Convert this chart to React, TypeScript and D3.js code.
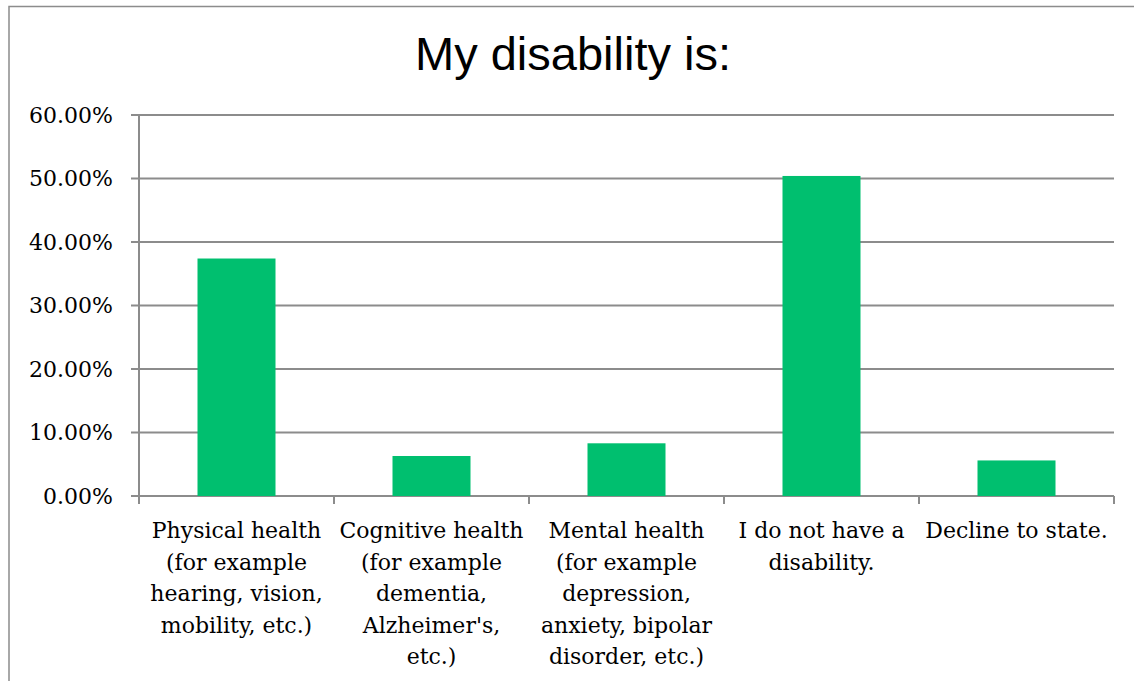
import React, { useEffect, useRef } from 'react';
import * as d3 from 'd3';

const categories = [
  'Physical health (for example hearing, vision, mobility, etc.)',
  "Cognitive health (for example dementia, Alzheimer's, etc.)",
  'Mental health (for example depression, anxiety, bipolar disorder, etc.)',
  'I do not have a disability.',
  'Decline to state.',
];

// wrapped lines as they appear under each bar
const categoryLines = [
  ['Physical health', '(for example', 'hearing, vision,', 'mobility, etc.)'],
  ['Cognitive health', '(for example', 'dementia,', "Alzheimer's,", 'etc.)'],
  ['Mental health', '(for example', 'depression,', 'anxiety, bipolar', 'disorder, etc.)'],
  ['I do not have a', 'disability.'],
  ['Decline to state.'],
];

const values = [37.4, 6.3, 8.3, 50.4, 5.6];
const yTicks = [0, 10, 20, 30, 40, 50, 60];

const W = 1134;
const H = 681;

const App: React.FC = () => {
  const svgRef = useRef<SVGSVGElement | null>(null);

  useEffect(() => {
    const svgEl = svgRef.current;
    if (!svgEl) return;
    const svg = d3.select(svgEl);
    svg.selectAll('*').remove();

    const margin = { top: 115, right: 20, bottom: 185, left: 139 };
    const innerWidth = 1114 - margin.left;
    const innerHeight = 496 - margin.top;

    const x = d3.scaleBand<string>().domain(categories).range([0, innerWidth]).paddingInner(0.6).paddingOuter(0.3);
    const step = innerWidth / categories.length;
    const y = d3.scaleLinear().domain([0, 60]).range([innerHeight, 0]);

    const grey = '#8c8c8c';
    const serif = '"DejaVu Serif", serif';

    // outer chart frame
    svg.append('rect')
      .attr('x', 9)
      .attr('y', 6.5)
      .attr('width', W + 20)
      .attr('height', H + 20)
      .attr('fill', 'none')
      .attr('stroke', grey)
      .attr('stroke-width', 1.5);

    // title
    svg.append('text')
      .attr('x', 573)
      .attr('y', 70)
      .attr('text-anchor', 'middle')
      .attr('font-family', '"Liberation Sans", Arial, sans-serif')
      .attr('font-size', 47)
      .attr('fill', '#000')
      .text('My disability is:');

    const g = svg.append('g').attr('transform', `translate(${margin.left},${margin.top})`);

    // gridlines
    g.append('g')
      .selectAll('line')
      .data(yTicks)
      .join('line')
      .attr('x1', -8)
      .attr('x2', innerWidth)
      .attr('y1', (d) => y(d))
      .attr('y2', (d) => y(d))
      .attr('stroke', grey)
      .attr('stroke-width', 2);

    // y axis line
    g.append('line')
      .attr('x1', 0).attr('x2', 0)
      .attr('y1', 0).attr('y2', innerHeight + 8)
      .attr('stroke', grey)
      .attr('stroke-width', 2);

    // category tick marks
    g.append('g')
      .selectAll('line')
      .data(d3.range(categories.length + 1))
      .join('line')
      .attr('x1', (i) => i * step)
      .attr('x2', (i) => i * step)
      .attr('y1', innerHeight)
      .attr('y2', innerHeight + 8)
      .attr('stroke', grey)
      .attr('stroke-width', 2);

    // y tick labels
    g.append('g')
      .selectAll('text')
      .data(yTicks)
      .join('text')
      .attr('x', -26)
      .attr('y', (d) => y(d))
      .attr('dy', '0.36em')
      .attr('text-anchor', 'end')
      .attr('font-family', serif)
      .attr('font-size', 22)
      .attr('fill', '#000')
      .text((d) => `${d.toFixed(2)}%`);

    // bars
    g.append('g')
      .selectAll('rect')
      .data(values)
      .join('rect')
      .attr('x', (_, i) => x(categories[i]) as number)
      .attr('y', (d) => y(d))
      .attr('width', x.bandwidth())
      .attr('height', (d) => innerHeight - y(d))
      .attr('fill', '#00bf6f');

    // category labels
    const labels = g.append('g')
      .selectAll('text')
      .data(categoryLines)
      .join('text')
      .attr('text-anchor', 'middle')
      .attr('font-family', serif)
      .attr('font-size', 22)
      .attr('fill', '#000')
      .attr('transform', (_, i) => `translate(${(x(categories[i]) as number) + x.bandwidth() / 2},${innerHeight + 42})`);

    labels.selectAll('tspan')
      .data((d) => d)
      .join('tspan')
      .attr('x', 0)
      .attr('y', (_, j) => j * 31.5)
      .text((d) => d);
  }, []);

  return (
    <svg
      ref={svgRef}
      width={W}
      height={H}
      style={{ position: 'fixed', left: 0, top: 0, background: '#fff', display: 'block' }}
      role="img"
      aria-label="My disability is: bar chart"
    />
  );
};

export default App;
